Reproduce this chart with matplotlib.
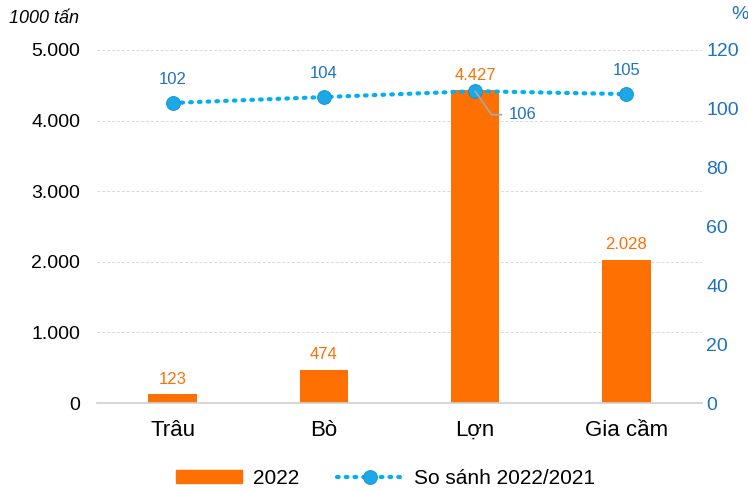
import matplotlib.pyplot as plt
from matplotlib.lines import Line2D
from matplotlib.patches import Patch

plt.rcParams['font.family'] = ['Liberation Sans', 'DejaVu Sans']

categories = ['Trâu', 'Bò', 'Lợn', 'Gia cầm']
output_2022 = [123, 474, 4427, 2028]
ratio = [102, 104, 106, 105]
bar_labels = ['123', '474', '4.427', '2.028']
left_ticks = [0, 1000, 2000, 3000, 4000, 5000]
left_labels = ['0', '1.000', '2.000', '3.000', '4.000', '5.000']
right_ticks = [0, 20, 40, 60, 80, 100, 120]

ORANGE = '#FF7003'
LINE_BLUE = '#00B0F0'
TEXT_BLUE = '#1F72BE'

fig = plt.figure(figsize=(7.48, 4.91), dpi=100)
ax = fig.add_axes([0.1297, 0.1792, 0.8088, 0.719])
x = list(range(len(categories)))

ax.bar(x, output_2022, width=0.32, color=ORANGE, zorder=2)
ax.set_xlim(-0.5, 3.5)
ax.set_ylim(0, 5000)
ax.set_yticks(left_ticks)
ax.set_yticklabels(left_labels)
ax.set_xticks(x)
ax.set_xticklabels(categories, fontsize=16)
ax.tick_params(axis='both', length=0)
ax.tick_params(axis='y', pad=12, labelsize=14)
ax.tick_params(axis='x', pad=12)
ax.grid(axis='y', color='#D9D9D9', linestyle=(0, (3, 2)), linewidth=0.7, zorder=0)
for s in ['top', 'right', 'left']:
    ax.spines[s].set_visible(False)
ax.spines['bottom'].set_color('#D0D0D0')
ax.spines['bottom'].set_linewidth(1.2)

for i, (v, lab) in enumerate(zip(output_2022, bar_labels)):
    ax.text(i, v + 110, lab, ha='center', va='bottom', color=ORANGE, fontsize=12)

ax2 = ax.twinx()
ax2.set_ylim(0, 120)
ax2.set_yticks(right_ticks)
ax2.tick_params(axis='y', length=0, labelsize=14, labelcolor=TEXT_BLUE, pad=3)
for s in ax2.spines.values():
    s.set_visible(False)
ax2.plot(x, ratio, linestyle=(0, (0.4, 1.7)), dash_capstyle='round', linewidth=3.0,
         color=LINE_BLUE, marker='o', markersize=10, markerfacecolor='#1AA8E6',
         markeredgecolor='#1590C8', markeredgewidth=0.6, zorder=3)

for i, r in enumerate(ratio):
    if i == 2:
        ax2.annotate(str(r), xy=(i, r), xytext=(i + 0.22, r - 8),
                     ha='left', va='center', color=TEXT_BLUE, fontsize=12,
                     arrowprops=dict(arrowstyle='-', color='#A6A6A6', lw=1.3,
                                     connectionstyle='angle,angleA=0,angleB=-55,rad=0',
                                     shrinkA=3, shrinkB=0))
    else:
        ax2.text(i, r + 5.5, str(r), ha='center', va='bottom', color=TEXT_BLUE, fontsize=12)

fig.text(0.012, 0.962, '1000 tấn', style='italic', fontsize=13, ha='left', va='center')
fig.text(0.978, 0.97, '%', color=TEXT_BLUE, fontsize=14, ha='left', va='center')

handles = [Patch(color=ORANGE),
           Line2D([0], [0], linestyle=(0, (0.4, 1.7)), dash_capstyle='round', linewidth=3.0,
                  color=LINE_BLUE, marker='o', markersize=10, markerfacecolor='#1AA8E6',
                  markeredgecolor='#1590C8', markeredgewidth=0.6)]
fig.legend(handles, ['2022', 'So sánh 2022/2021'], loc='center', bbox_to_anchor=(0.515, 0.025),
           ncol=2, frameon=False, fontsize=15, handlelength=3.2, handleheight=0.6,
           columnspacing=1.8, handletextpad=0.5)

fig.savefig('out.png', dpi=100)
